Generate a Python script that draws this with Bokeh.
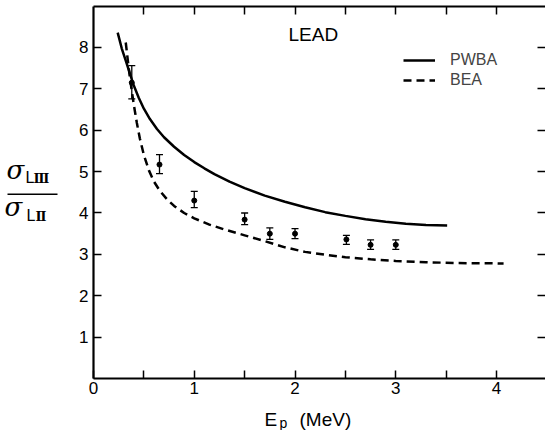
from bokeh.plotting import figure
from bokeh.models import (ColumnDataSource, Whisker, TeeHead, LinearAxis, FixedTicker,
                          Legend, LegendItem)
from bokeh.core.properties import value
from bokeh.layouts import row, column
from bokeh.embed import file_html
from bokeh.resources import INLINE

# ---- data ----
pwba_x = [0.24, 0.28, 0.32, 0.36, 0.40, 0.45, 0.50, 0.56, 0.63, 0.70, 0.80, 0.90, 1.00, 1.10,
          1.20, 1.35, 1.50, 1.70, 1.90, 2.10, 2.30, 2.50, 2.70, 2.90, 3.10, 3.30, 3.51]
pwba_y = [8.36, 7.98, 7.68, 7.38, 7.08, 6.78, 6.52, 6.27, 6.03, 5.83, 5.60, 5.40, 5.23, 5.08,
          4.94, 4.76, 4.60, 4.42, 4.27, 4.14, 4.02, 3.93, 3.85, 3.79, 3.74, 3.71, 3.70]

bea_x = [0.32, 0.34, 0.36, 0.38, 0.40, 0.43, 0.46, 0.50, 0.55, 0.60, 0.66, 0.73, 0.80, 0.90,
         1.00, 1.15, 1.30, 1.50, 1.70, 1.90, 2.10, 2.30, 2.50, 2.75, 3.00, 3.30, 3.60, 4.07]
bea_y = [8.12, 7.70, 7.30, 6.95, 6.62, 6.18, 5.80, 5.40, 5.03, 4.76, 4.53, 4.33, 4.17, 4.00,
         3.87, 3.72, 3.60, 3.46, 3.32, 3.17, 3.06, 2.99, 2.93, 2.88, 2.84, 2.81, 2.79, 2.78]

exp_x = [0.38, 0.655, 1.00, 1.50, 1.75, 2.00, 2.51, 2.75, 3.00]
exp_y = [7.15, 5.17, 4.30, 3.84, 3.50, 3.50, 3.36, 3.23, 3.23]
exp_lo = [6.76, 4.95, 4.13, 3.72, 3.36, 3.38, 3.24, 3.12, 3.12]
exp_hi = [7.56, 5.41, 4.52, 4.00, 3.64, 3.62, 3.46, 3.35, 3.35]

x_ticks = [0, 1, 2, 3, 4]
x_minor = [0.5, 1.5, 2.5, 3.5]
x_top_ticks = [0.5, 1.0, 1.5, 2.0, 2.5, 3.0, 3.5, 4.0]
y_ticks = [1, 2, 3, 4, 5, 6, 7, 8]

FONT = "Liberation Sans"
MAIN_H = 402

p = figure(width=485, height=MAIN_H, x_range=(0, 4.486), y_range=(0, 8.99),
           output_backend="svg", toolbar_location=None,
           x_axis_location=None, y_axis_location=None,
           min_border_left=33, min_border_right=0, min_border_top=6, min_border_bottom=24)
p.xgrid.visible = False
p.ygrid.visible = False
p.outline_line_color = None

def style(ax, labels=True):
    ax.axis_line_width = 2.2
    ax.axis_line_color = "black"
    ax.major_tick_in = 8
    ax.major_tick_out = 0
    ax.minor_tick_in = 8
    ax.minor_tick_out = 0
    ax.major_tick_line_width = 1.5
    ax.minor_tick_line_width = 1.5
    ax.major_tick_line_color = "black"
    ax.minor_tick_line_color = "black"
    if labels:
        ax.major_label_text_font = FONT
        ax.major_label_text_font_size = "17px"
        ax.major_label_text_color = "black"
    else:
        ax.major_label_text_font_size = "0px"
        ax.major_label_standoff = 0

bottom = LinearAxis(ticker=FixedTicker(ticks=x_ticks, minor_ticks=x_minor))
style(bottom)
bottom.major_label_standoff = 3
p.add_layout(bottom, "below")

top = LinearAxis(ticker=FixedTicker(ticks=x_top_ticks, minor_ticks=[]))
style(top, labels=False)
p.add_layout(top, "above")

left = LinearAxis(ticker=FixedTicker(ticks=y_ticks, minor_ticks=[]))
style(left)
left.major_label_standoff = 5
p.add_layout(left, "left")

right = LinearAxis(ticker=FixedTicker(ticks=y_ticks, minor_ticks=[]))
style(right, labels=False)
right.axis_line_color = None
p.add_layout(right, "right")

# curves
r_pwba = p.line(pwba_x, pwba_y, line_color="black", line_width=2.5)
r_bea = p.line(bea_x, bea_y, line_color="black", line_width=2.5, line_dash="8 5")

# experimental points
src = ColumnDataSource(dict(x=exp_x, y=exp_y, lo=exp_lo, hi=exp_hi))
p.add_layout(Whisker(source=src, base="x", lower="lo", upper="hi", dimension="height",
                     line_color="black", line_width=1.3,
                     lower_head=TeeHead(size=7, line_width=1.3, line_color="black"),
                     upper_head=TeeHead(size=7, line_width=1.3, line_color="black")))
p.scatter("x", "y", source=src, size=5, color="black")

# legend
legend = Legend(items=[LegendItem(label="PWBA", renderers=[r_pwba]),
                       LegendItem(label="BEA", renderers=[r_bea])],
                location=(310, 288), orientation="vertical",
                padding=0, margin=0, spacing=0,
                glyph_width=32, glyph_height=20, label_height=20,
                label_standoff=15, label_text_font=FONT, label_text_font_size="16px",
                border_line_color=None, background_fill_alpha=0)
p.add_layout(legend, "center")

# LEAD
p.text(x=[1.935], y=[8.313], text=["LEAD"], text_font=value(FONT), text_font_size="19px",
       text_color="black", text_baseline="middle", text_align="left")

def panel(w, h):
    f = figure(width=w, height=h, x_range=(0, w), y_range=(h, 0),
               output_backend="svg", toolbar_location=None,
               x_axis_location=None, y_axis_location=None,
               min_border_left=0, min_border_right=0, min_border_top=0, min_border_bottom=0)
    f.xgrid.visible = False
    f.ygrid.visible = False
    f.outline_line_color = None
    return f

def txt(f, x, y, t, font, size, style="normal"):
    f.text(x=[x], y=[y], text=[t], text_font=value(font), text_font_size=size,
           text_font_style=style, text_baseline="middle", text_align="left",
           text_color="black")

# ---- y-axis label panel: sigma_LIII / sigma_LII ----
yl = panel(60, MAIN_H)
DY = 10
txt(yl, 6, 167 + DY, "σ", "DejaVu Serif", "26px", "italic")
txt(yl, 25, 175 + DY, "L", FONT, "16px")
txt(yl, 33, 176 + DY, "Ⅲ", "DejaVu Serif", "13px", "bold")
yl.line(x=[7, 57], y=[193 + DY, 193 + DY], line_width=1.5, line_color="black")
txt(yl, 4, 207 + DY, "σ", "DejaVu Serif", "26px", "italic")
txt(yl, 26, 216 + DY, "L", FONT, "16px")
txt(yl, 35, 217 + DY, "Ⅱ", "DejaVu Serif", "13px", "bold")

# ---- x-axis label panel: E_p (MeV) ----
XL_H = 28
xl = panel(545, XL_H)
txt(xl, 264, 17, "E", FONT, "19px")
txt(xl, 279, 20, "p", FONT, "14px")
txt(xl, 299, 17, "(MeV)", FONT, "19px")

layout = column(row(yl, p, spacing=0), xl, spacing=0)
open("out.html", "w").write(file_html(layout, INLINE))
